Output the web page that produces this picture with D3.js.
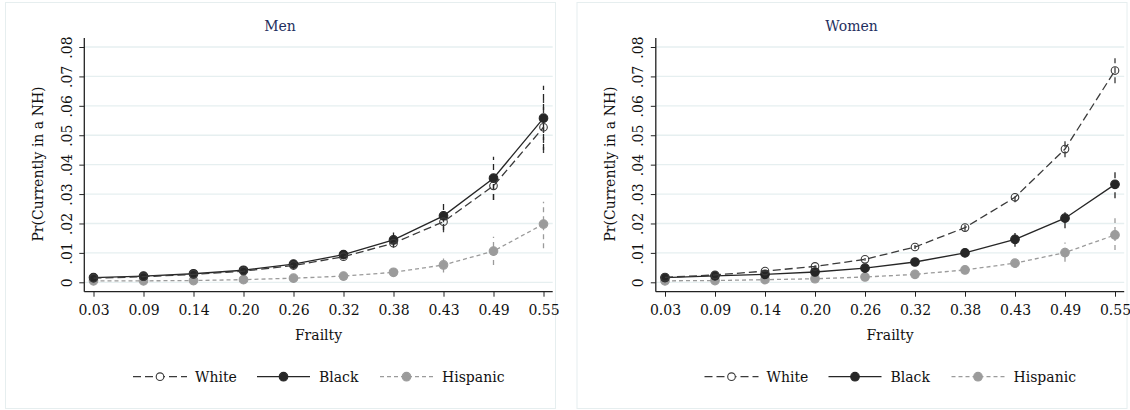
<!DOCTYPE html>
<html>
<head>
<meta charset="utf-8">
<script src="https://cdn.jsdelivr.net/npm/d3@7"></script>
<style>
	body { margin: 0; background: #ffffff; }
</style>
</head>
<body>
<div class="chart"></div>
<script>

var frailty = ["0.03", "0.09", "0.14", "0.20", "0.26", "0.32", "0.38", "0.43", "0.49", "0.55"];
var yTicks = [0, 0.01, 0.02, 0.03, 0.04, 0.05, 0.06, 0.07, 0.08];
var yTickLabels = ["0", ".01", ".02", ".03", ".04", ".05", ".06", ".07", ".08"];
var seriesNames = ["White", "Black", "Hispanic"];

// Men
var menWhite   = [0.0014, 0.0019, 0.0027, 0.0038, 0.0057, 0.0087, 0.0133, 0.0206, 0.0328, 0.0527];
var menWhiteLo = [0.0012, 0.0017, 0.0025, 0.0035, 0.0053, 0.0081, 0.0118, 0.0170, 0.0280, 0.0440];
var menWhiteHi = [0.0016, 0.0021, 0.0029, 0.0041, 0.0061, 0.0093, 0.0148, 0.0242, 0.0378, 0.0620];
var menBlack   = [0.0016, 0.0021, 0.0029, 0.0041, 0.0062, 0.0094, 0.0144, 0.0226, 0.0354, 0.0558];
var menBlackLo = [0.0013, 0.0018, 0.0025, 0.0036, 0.0055, 0.0083, 0.0119, 0.0178, 0.0280, 0.0450];
var menBlackHi = [0.0019, 0.0024, 0.0033, 0.0046, 0.0069, 0.0105, 0.0169, 0.0274, 0.0427, 0.0668];
var menHisp    = [0.0005, 0.0005, 0.0006, 0.0009, 0.0014, 0.0021, 0.0034, 0.0059, 0.0106, 0.0198];
var menHispLo  = [0.0003, 0.0003, 0.0004, 0.0006, 0.0010, 0.0014, 0.0022, 0.0033, 0.0059, 0.0116];
var menHispHi  = [0.0007, 0.0007, 0.0008, 0.0012, 0.0018, 0.0028, 0.0046, 0.0082, 0.0155, 0.0274];

// Women
var womenWhite   = [0.0017, 0.0025, 0.0038, 0.0054, 0.0078, 0.0120, 0.0186, 0.0289, 0.0453, 0.0720];
var womenWhiteLo = [0.0015, 0.0023, 0.0035, 0.0050, 0.0073, 0.0113, 0.0175, 0.0272, 0.0425, 0.0677];
var womenWhiteHi = [0.0019, 0.0027, 0.0041, 0.0058, 0.0083, 0.0127, 0.0197, 0.0306, 0.0484, 0.0762];
var womenBlack   = [0.0016, 0.0022, 0.0027, 0.0035, 0.0048, 0.0069, 0.0100, 0.0146, 0.0218, 0.0333];
var womenBlackLo = [0.0014, 0.0019, 0.0024, 0.0031, 0.0043, 0.0062, 0.0088, 0.0121, 0.0184, 0.0286];
var womenBlackHi = [0.0018, 0.0025, 0.0030, 0.0039, 0.0053, 0.0076, 0.0112, 0.0168, 0.0252, 0.0382];
var womenHisp    = [0.0005, 0.0006, 0.0009, 0.0012, 0.0018, 0.0027, 0.0042, 0.0065, 0.0101, 0.0161];
var womenHispLo  = [0.0003, 0.0004, 0.0007, 0.0009, 0.0014, 0.0021, 0.0034, 0.0050, 0.0070, 0.0110];
var womenHispHi  = [0.0007, 0.0008, 0.0011, 0.0015, 0.0022, 0.0033, 0.0050, 0.0080, 0.0135, 0.0218];

var serif = "DejaVu Serif";
var fontSize = "14px";

var styles = {
	"White":    { color: "#3a3a3a", dash: "8,4", ci: "6,4", fill: "none" },
	"Black":    { color: "#262626", dash: null,  ci: "6,4", fill: "#262626" },
	"Hispanic": { color: "#9b9b9b", dash: "4,3", ci: "5,4", fill: "#9b9b9b" }
};

var svg = d3.select(".chart").append("svg")
			.attr("width", 1130)
			.attr("height", 410)
			.attr("font-family", serif);

var packSeries = function(name, vals, lo, hi){
	return { name: name, values: frailty.map(function(f, i){
		return { f: f, v: vals[i], lo: lo[i], hi: hi[i] };
	}) };
};

var addText = function(g){
	return g.append("text")
		.attr("font-size", fontSize)
		.attr("font-family", serif)
		.style("fill", "#111");
};

var drawPanel = function(ox, title, series){

	var g = svg.append("g").attr("transform", "translate(" + ox + ",0)");

	var x = d3.scalePoint().domain(frailty).range([84.3, 552.7]).padding(0.184);
	var y = d3.scaleLinear().domain([0, 0.08]).range([282.3, 47]);

	// panel frame
	g.append("rect")
		.attr("x", 5.5).attr("y", 2.5)
		.attr("width", 550).attr("height", 406)
		.style("fill", "none")
		.style("stroke", "#e6eeef");

	addText(g)
		.attr("x", 280)
		.attr("y", 31)
		.attr("text-anchor", "middle")
		.style("fill", "#1f2f5e")
		.text(title);

	// gridlines
	g.selectAll(".grid").data(yTicks).enter().append("line")
		.attr("x1", 84.3).attr("x2", 552.7)
		.attr("y1", function(d){ return y(d); })
		.attr("y2", function(d){ return y(d); })
		.style("stroke", "#e6eff0")
		.style("stroke-width", 1.3);

	// y axis
	var yAxis = g.append("g")
		.attr("transform", "translate(84.3,0)")
		.call(d3.axisLeft(y).tickValues(yTicks).tickSize(5).tickFormat(function(d, i){ return yTickLabels[i]; }));
	yAxis.attr("font-family", serif).attr("font-size", fontSize);
	yAxis.select(".domain").remove();
	yAxis.selectAll("line").style("stroke", "#222");
	yAxis.selectAll("text")
		.attr("x", 0).attr("dy", 0)
		.attr("text-anchor", "middle")
		.attr("transform", "translate(-12.5,0) rotate(-90)")
		.style("fill", "#111");
	g.append("line")
		.attr("x1", 84.3).attr("x2", 84.3)
		.attr("y1", 38).attr("y2", 291.7)
		.style("stroke", "#222").style("stroke-width", 1.3);

	// x axis
	var xAxis = g.append("g")
		.attr("transform", "translate(0,291.7)")
		.call(d3.axisBottom(x).tickSize(5).tickPadding(5));
	xAxis.attr("font-family", serif).attr("font-size", fontSize);
	xAxis.select(".domain").remove();
	xAxis.selectAll("line").style("stroke", "#222");
	xAxis.selectAll("text")
		.attr("dy", "0.95em")
		.style("fill", "#111");
	g.append("line")
		.attr("x1", 84.3).attr("x2", 552.7)
		.attr("y1", 291.7).attr("y2", 291.7)
		.style("stroke", "#222").style("stroke-width", 1.3);

	addText(g)
		.attr("x", 318.5).attr("y", 340)
		.attr("text-anchor", "middle")
		.text("Frailty");

	addText(g)
		.attr("transform", "translate(43,164) rotate(-90)")
		.attr("text-anchor", "middle")
		.text("Pr(Currently in a NH)");

	// confidence spikes
	series.forEach(function(s){
		var st = styles[s.name];
		g.selectAll(null).data(s.values).enter().append("line")
			.attr("x1", function(d){ return x(d.f); })
			.attr("x2", function(d){ return x(d.f); })
			.attr("y1", function(d){ return y(d.lo); })
			.attr("y2", function(d){ return y(d.hi); })
			.style("stroke", st.color)
			.style("stroke-width", 1.3)
			.style("stroke-dasharray", st.ci);
	});

	var line = d3.line()
		.x(function(d){ return x(d.f); })
		.y(function(d){ return y(d.v); });

	series.slice().reverse().forEach(function(s){
		var st = styles[s.name];
		g.append("path")
			.datum(s.values)
			.attr("d", line)
			.style("fill", "none")
			.style("stroke", st.color)
			.style("stroke-width", 1.3)
			.style("stroke-dasharray", st.dash);

		g.selectAll(null).data(s.values).enter().append("circle")
			.attr("cx", function(d){ return x(d.f); })
			.attr("cy", function(d){ return y(d.v); })
			.attr("r", s.name === "White" ? 3.8 : 4.3)
			.style("fill", st.fill)
			.style("stroke", st.color)
			.style("stroke-width", 1.1);
	});

	// legend
	var legX = [[133, 187, 195], [257, 310, 319], [380, 433, 442]];
	seriesNames.forEach(function(name, i){
		var st = styles[name];
		g.append("line")
			.attr("x1", legX[i][0]).attr("x2", legX[i][1])
			.attr("y1", 376.7).attr("y2", 376.7)
			.style("stroke", st.color)
			.style("stroke-width", 1.3)
			.style("stroke-dasharray", st.dash);
		g.append("circle")
			.attr("cx", (legX[i][0] + legX[i][1]) / 2)
			.attr("cy", 376.7)
			.attr("r", name === "White" ? 3.8 : 4.3)
			.style("fill", st.fill === "none" ? "#fff" : st.fill)
			.style("stroke", st.color)
			.style("stroke-width", 1.1);
		addText(g)
			.attr("x", legX[i][2]).attr("y", 382)
			.text(name);
	});
};

drawPanel(0, "Men", [
	packSeries("White", menWhite, menWhiteLo, menWhiteHi),
	packSeries("Black", menBlack, menBlackLo, menBlackHi),
	packSeries("Hispanic", menHisp, menHispLo, menHispHi)
]);

drawPanel(571.5, "Women", [
	packSeries("White", womenWhite, womenWhiteLo, womenWhiteHi),
	packSeries("Black", womenBlack, womenBlackLo, womenBlackHi),
	packSeries("Hispanic", womenHisp, womenHispLo, womenHispHi)
]);

</script>
</body>
</html>
